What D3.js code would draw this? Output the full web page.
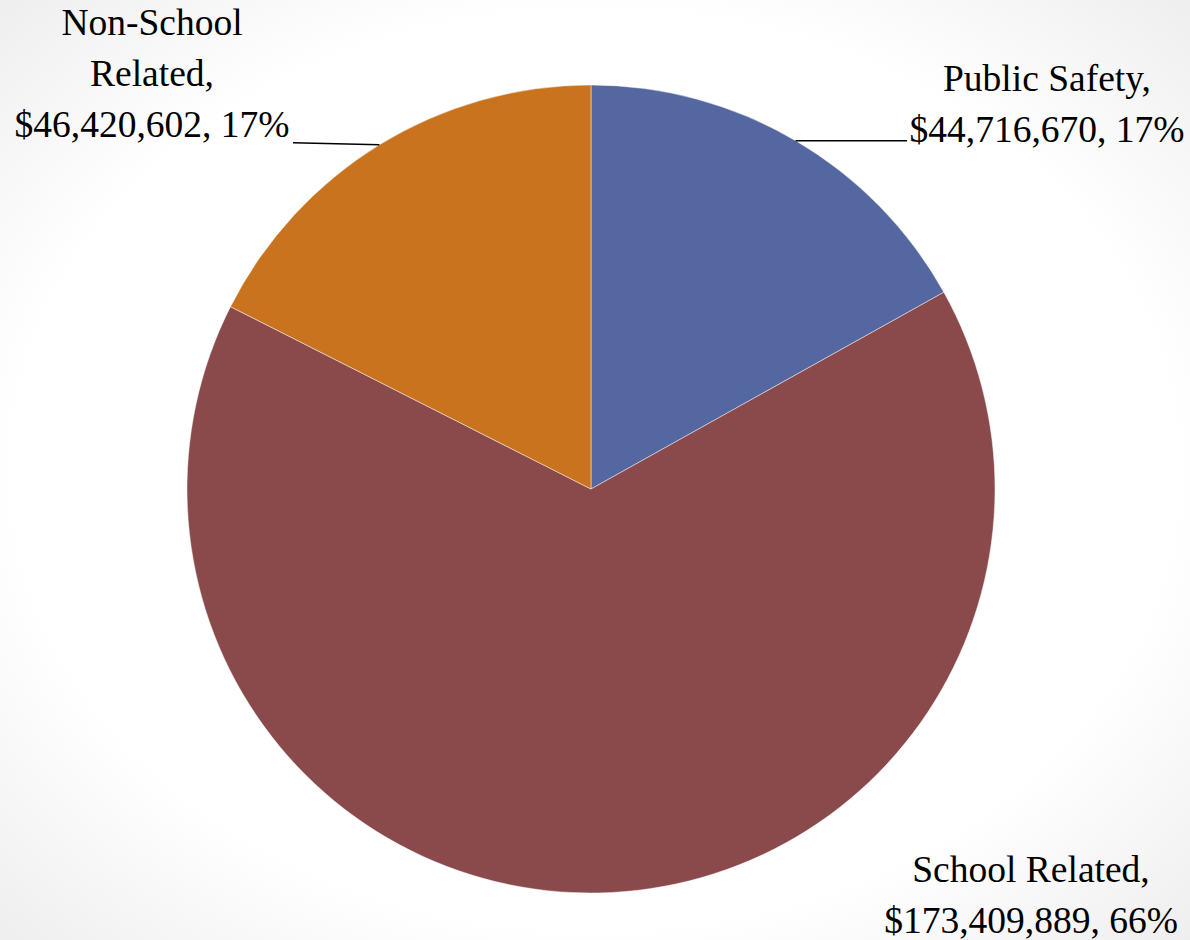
<!DOCTYPE html>
<html>
<head>
<meta charset="utf-8">
<script src="https://cdn.jsdelivr.net/npm/d3@7"></script>
<style>
  html, body { margin: 0; padding: 0; background: #fff; }
  svg { display: block; }
</style>
</head>
<body>
<svg id="chart" width="1190" height="940"></svg>
<script>
// ---- data ----
const categories = ["Public Safety", "School Related", "Non-School Related"];
const values = [44716670, 173409889, 46420602];
const percentLabels = ["17%", "66%", "17%"];
const colors = ["#5567a0", "#8a4a4b", "#c9731e"];
// label text lines per category
const labelLines = [
  ["Public Safety,", "$44,716,670, 17%"],
  ["School Related,", "$173,409,889, 66%"],
  ["Non-School", "Related,", "$46,420,602, 17%"]
];

// ---- layout ----
const W = 1190, H = 940;
const cx = 591, cy = 489, R = 404;
const fontFamily = "'Liberation Serif', 'Times New Roman', serif";
const fontSize = 37.5;

const svg = d3.select("#chart");
const defs = svg.append("defs");
const grad = defs.append("radialGradient")
  .attr("id", "bg").attr("cx", "50%").attr("cy", "50%").attr("r", "75%");
grad.append("stop").attr("offset", "0%").attr("stop-color", "#ffffff");
grad.append("stop").attr("offset", "65%").attr("stop-color", "#ffffff");
grad.append("stop").attr("offset", "100%").attr("stop-color", "#ebebeb");
svg.append("rect").attr("width", W).attr("height", H).attr("fill", "url(#bg)");

const pie = d3.pie().sort(null).value(d => d)(values);
const arc = d3.arc().innerRadius(0).outerRadius(R);

const g = svg.append("g").attr("transform", `translate(${cx},${cy})`);
g.selectAll("path.slice")
  .data(pie)
  .join("path")
  .attr("class", "slice")
  .attr("d", arc)
  .attr("fill", (d, i) => colors[i])
  .attr("stroke", "#ffffff")
  .attr("stroke-opacity", 0.45)
  .attr("stroke-width", 1);

// label configuration (positions)
const labelPos = [
  { x: 1047, y: 91, anchor: "middle", lineEnd: 907, lineDy: 0 },
  { x: 1031, y: 882, anchor: "middle", lineEnd: null },
  { x: 152, y: 35, anchor: "middle", lineEnd: 293, lineDy: -2 }
];
const lineH = 51;

pie.forEach((d, i) => {
  const p = labelPos[i];
  if (p.lineEnd !== null) {
    const mid = (d.startAngle + d.endAngle) / 2;
    const sx = cx + R * Math.sin(mid);
    const sy = cy - R * Math.cos(mid);
    svg.append("line")
      .attr("x1", sx).attr("y1", sy)
      .attr("x2", p.lineEnd).attr("y2", sy + p.lineDy)
      .attr("stroke", "#000").attr("stroke-width", 1.5);
  }
  const t = svg.append("text")
    .attr("text-anchor", p.anchor)
    .attr("font-family", fontFamily)
    .attr("font-size", fontSize)
    .attr("fill", "#000");
  labelLines[i].forEach((ln, k) => {
    t.append("tspan").attr("x", p.x).attr("y", p.y + k * lineH).text(ln);
  });
});
</script>
</body>
</html>
